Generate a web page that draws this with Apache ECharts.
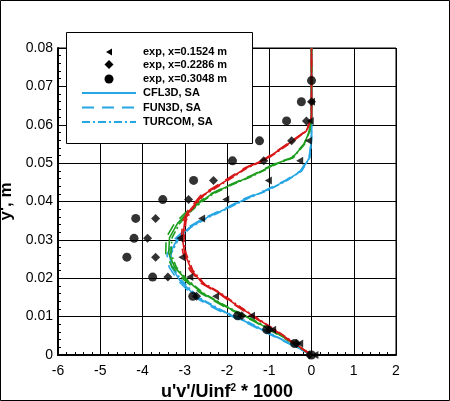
<!DOCTYPE html>
<html><head><meta charset="utf-8">
<script src="https://cdn.jsdelivr.net/npm/echarts@6/dist/echarts.min.js"></script>
<style>html,body{margin:0;padding:0;background:#fff}#c{width:450px;height:401px;}</style>
</head><body><div id="c"></div>
<script>
// Experimental data [u'v'/Uinf^2*1000, y']
var expX1524 = [[0.08,0],[-0.28,0.0030],[-0.92,0.0066],[-1.42,0.0102],[-2.27,0.0153],[-2.88,0.0203],[-3.07,0.0255],[-3.12,0.0304],[-2.60,0.0356],[-2.03,0.0405],[-1.02,0.0455],[-0.28,0.0506],[-0.07,0.0558],[-0.03,0.0610],[0.0,0.0660]];
var expX2286 = [[-0.05,0],[-0.35,0.0030],[-1.00,0.0066],[-1.65,0.0102],[-2.72,0.0153],[-3.40,0.0203],[-3.69,0.0255],[-3.88,0.0304],[-3.69,0.0356],[-2.91,0.0405],[-2.32,0.0455],[-1.13,0.0506],[-0.47,0.0558],[-0.12,0.0610],[0.0,0.0660]];
var expX3048 = [[0.0,0],[-0.40,0.0030],[-1.06,0.0066],[-1.75,0.0102],[-2.81,0.0153],[-3.76,0.0203],[-4.37,0.0255],[-4.20,0.0304],[-4.16,0.0356],[-3.52,0.0405],[-2.79,0.0455],[-1.87,0.0506],[-1.23,0.0558],[-0.59,0.0610],[-0.24,0.0660],[0.0,0.0715]];

// CFD curves, station x=0.1524 (blue)
var cfl3dBlue = [[0,0],[-0.35,0.0021],[-0.92,0.0052],[-1.54,0.0086],[-2.17,0.0117],[-2.72,0.0151],[-3.12,0.0195],[-3.31,0.0229],[-3.36,0.0262],[-3.17,0.0304],[-2.88,0.0333],[-2.48,0.0358],[-2.01,0.0382],[-1.54,0.0408],[-1.06,0.0429],[-0.59,0.0455],[-0.24,0.0480],[-0.05,0.0514],[0,0.0560],[0,0.0800]];
var fun3dBlue = [[0,0],[-0.38,0.0021],[-0.96,0.0052],[-1.58,0.0086],[-2.22,0.0117],[-2.77,0.0151],[-3.17,0.0195],[-3.37,0.0229],[-3.42,0.0262],[-3.22,0.0304],[-2.92,0.0333],[-2.52,0.0358],[-2.05,0.0382],[-1.58,0.0408],[-1.10,0.0429],[-0.62,0.0455],[-0.26,0.0480],[-0.06,0.0514],[0,0.0560],[0,0.0800]];
var turcomBlue = [[0,0],[-0.33,0.0021],[-0.90,0.0052],[-1.50,0.0086],[-2.13,0.0117],[-2.68,0.0151],[-3.08,0.0195],[-3.28,0.0229],[-3.33,0.0262],[-3.14,0.0304],[-2.85,0.0333],[-2.45,0.0358],[-1.98,0.0382],[-1.51,0.0408],[-1.03,0.0429],[-0.57,0.0455],[-0.23,0.0480],[-0.04,0.0514],[0,0.0560],[0,0.0800]];
// station x=0.2286 (green)
var cfl3dGreen = [[0,0],[-0.35,0.0026],[-0.83,0.0057],[-1.39,0.0091],[-2.01,0.0125],[-2.58,0.0161],[-2.96,0.0195],[-3.24,0.0229],[-3.38,0.0265],[-3.36,0.0306],[-3.17,0.0343],[-2.93,0.0371],[-2.65,0.0397],[-2.34,0.0421],[-1.94,0.0442],[-1.39,0.0468],[-0.83,0.0499],[-0.45,0.0514],[-0.17,0.0550],[-0.05,0.0584],[0,0.0620],[0,0.0800]];
var fun3dGreen = [[0,0],[-0.37,0.0026],[-0.86,0.0057],[-1.42,0.0091],[-2.05,0.0125],[-2.62,0.0161],[-3.01,0.0195],[-3.30,0.0229],[-3.45,0.0265],[-3.44,0.0306],[-3.24,0.0343],[-2.98,0.0371],[-2.69,0.0397],[-2.37,0.0421],[-1.97,0.0442],[-1.42,0.0468],[-0.86,0.0499],[-0.47,0.0514],[-0.18,0.0550],[-0.05,0.0584],[0,0.0620],[0,0.0800]];
var turcomGreen = [[0,0],[-0.33,0.0026],[-0.81,0.0057],[-1.36,0.0091],[-1.98,0.0125],[-2.55,0.0161],[-2.93,0.0195],[-3.20,0.0229],[-3.33,0.0265],[-3.30,0.0306],[-3.12,0.0343],[-2.89,0.0371],[-2.62,0.0397],[-2.31,0.0421],[-1.91,0.0442],[-1.36,0.0468],[-0.80,0.0499],[-0.43,0.0514],[-0.16,0.0550],[-0.04,0.0584],[0,0.0620],[0,0.0800]];
// station x=0.3048 (red)
var cfl3dRed = [[0,0],[-0.28,0.0021],[-0.76,0.0057],[-1.23,0.0091],[-1.78,0.0130],[-2.17,0.0161],[-2.58,0.0187],[-2.84,0.0221],[-3.00,0.0265],[-3.05,0.0299],[-3.00,0.0350],[-2.88,0.0377],[-2.58,0.0416],[-2.01,0.0455],[-1.54,0.0488],[-1.06,0.0512],[-0.45,0.0558],[-0.12,0.0584],[0,0.0620],[0,0.0800]];
var fun3dRed = [[0,0],[-0.30,0.0021],[-0.79,0.0057],[-1.26,0.0091],[-1.81,0.0130],[-2.20,0.0161],[-2.61,0.0187],[-2.88,0.0221],[-3.04,0.0265],[-3.09,0.0299],[-3.04,0.0350],[-2.92,0.0377],[-2.62,0.0416],[-2.05,0.0455],[-1.57,0.0488],[-1.09,0.0512],[-0.47,0.0558],[-0.13,0.0584],[0,0.0620],[0,0.0800]];
var turcomRed = [[0,0],[-0.27,0.0021],[-0.74,0.0057],[-1.21,0.0091],[-1.75,0.0130],[-2.14,0.0161],[-2.55,0.0187],[-2.81,0.0221],[-2.97,0.0265],[-3.02,0.0299],[-2.97,0.0350],[-2.85,0.0377],[-2.55,0.0416],[-1.98,0.0455],[-1.51,0.0488],[-1.03,0.0512],[-0.43,0.0558],[-0.11,0.0584],[0,0.0620],[0,0.0800]];

var legendNames = ['exp, x=0.1524 m','exp, x=0.2286 m','exp, x=0.3048 m','CFL3D, SA','FUN3D, SA','TURCOM, SA'];
var xTicks = [-6,-5,-4,-3,-2,-1,0,1,2];
var yTicks = [0,0.01,0.02,0.03,0.04,0.05,0.06,0.07,0.08];

var BLUE='#26a6e4', GREEN='#1e9e1e', RED='#d81818';
var DASHED=[12,8];
var DASHDOT=[8,3,2,3];
var triLeft='path://M0,5 L10,0 L10,10 Z';
var FONT='Liberation Sans, Arial, sans-serif';

function lineS(name, data, color, type){
  return {name:name, type:'line', data:data, showSymbol:false, symbol:'none',
    lineStyle:{color:color, width:1.6, type:type}, itemStyle:{color:color}, z:3, animation:false, silent:true};
}
function scat(name, data, symbol, size){
  return {name:name, type:'scatter', data:data, symbol:symbol, symbolSize:size,
    itemStyle:{color:'#000'}, z:5, animation:false, silent:true};
}

// legend drawn as graphic (box, keys, labels)
var rowY=[52,64.5,79,93,107.5,122];
var g=[{type:'rect', shape:{x:0.5,y:0.5,width:449,height:400}, style:{fill:'none',stroke:'#000',lineWidth:1}, z:100, silent:true},
       {type:'rect', shape:{x:66.5,y:32.5,width:186,height:111}, style:{fill:'#fff',stroke:'#000',lineWidth:1}, z:50, silent:true}];
g.push({type:'polygon', shape:{points:[[106,rowY[0]],[112,rowY[0]-3.5],[112,rowY[0]+3.5]]}, style:{fill:'#000'}, z:51});
g.push({type:'polygon', shape:{points:[[109,rowY[1]-4.5],[113.5,rowY[1]],[109,rowY[1]+4.5],[104.5,rowY[1]]]}, style:{fill:'#000'}, z:51});
g.push({type:'circle', shape:{cx:109,cy:rowY[2],r:4.5}, style:{fill:'#000'}, z:51});
[[null,3],[DASHED,4],[DASHDOT,5]].forEach(function(d){
  g.push({type:'line', shape:{x1:82,y1:rowY[d[1]],x2:136,y2:rowY[d[1]]}, style:{stroke:BLUE,lineWidth:2,lineDash:d[0]}, z:51});
});
legendNames.forEach(function(n,i){
  g.push({type:'text', x:143, y:rowY[i], style:{text:n, fill:'#000', font:'bold 11px '+FONT, textVerticalAlign:'middle', textBaseline:'middle'}, z:52});
});

var chart = echarts.init(document.getElementById('c'), null, {renderer:'canvas'});
chart.setOption({
  animation:false,
  backgroundColor:'#fff',
  textStyle:{fontFamily:FONT},
  graphic:g,
  grid:{left:58, right:54, top:48, bottom:46, show:true, borderColor:'#000', borderWidth:1, backgroundColor:'transparent', containLabel:false, outerBoundsMode:'none'},
  xAxis:{type:'value', min:-6, max:2, interval:1,
    name:"u'v'/Uinf{s|2} * 1000", nameLocation:'middle', nameGap:25,
    nameTextStyle:{fontSize:18, fontWeight:'bold', color:'#000', fontFamily:FONT, rich:{s:{fontSize:10, fontWeight:'bold', verticalAlign:'top', padding:[0,0,9,0], color:'#000', fontFamily:FONT}}},
    axisLine:{show:true, onZero:false, lineStyle:{color:'#000', width:2}},
    axisTick:{show:true, inside:true, length:6, lineStyle:{color:'#000'}},
    minorTick:{show:true, splitNumber:5, length:3, lineStyle:{color:'#000'}},
    splitLine:{show:true, lineStyle:{color:'#000', width:1}},
    axisLabel:{fontSize:14, color:'#000', margin:9, formatter:function(v){return xTicks.indexOf(v)>=0? String(v):'';}}
  },
  yAxis:{type:'value', min:0, max:0.08, interval:0.01,
    name:"y', m", nameLocation:'middle', nameGap:38,
    nameTextStyle:{fontSize:17, fontWeight:'bold', color:'#000', fontFamily:FONT},
    axisLine:{show:true, onZero:false, lineStyle:{color:'#000', width:2}},
    axisTick:{show:true, inside:true, length:6, lineStyle:{color:'#000'}},
    minorTick:{show:true, splitNumber:5, length:3, lineStyle:{color:'#000'}},
    splitLine:{show:true, lineStyle:{color:'#000', width:1}},
    axisLabel:{fontSize:14, color:'#000', margin:5, formatter:function(v){
      var t = yTicks.filter(function(k){return Math.abs(k-v)<1e-9;});
      if(!t.length) return ''; return v===0?'0':v.toFixed(2);}}
  },
  series:[
    lineS('CFL3D, SA', cfl3dBlue, BLUE, 'solid'),
    lineS('FUN3D, SA', fun3dBlue, BLUE, DASHED),
    lineS('TURCOM, SA', turcomBlue, BLUE, DASHDOT),
    lineS('CFL3D, SA (x=0.2286)', cfl3dGreen, GREEN, 'solid'),
    lineS('FUN3D, SA (x=0.2286)', fun3dGreen, GREEN, DASHED),
    lineS('TURCOM, SA (x=0.2286)', turcomGreen, GREEN, DASHDOT),
    lineS('CFL3D, SA (x=0.3048)', cfl3dRed, RED, 'solid'),
    lineS('FUN3D, SA (x=0.3048)', fun3dRed, RED, DASHED),
    lineS('TURCOM, SA (x=0.3048)', turcomRed, RED, DASHDOT),
    scat('exp, x=0.1524 m', expX1524, triLeft, [7,8]),
    scat('exp, x=0.2286 m', expX2286, 'diamond', [9,9]),
    scat('exp, x=0.3048 m', expX3048, 'circle', 9)
  ]
});
</script></body></html>
